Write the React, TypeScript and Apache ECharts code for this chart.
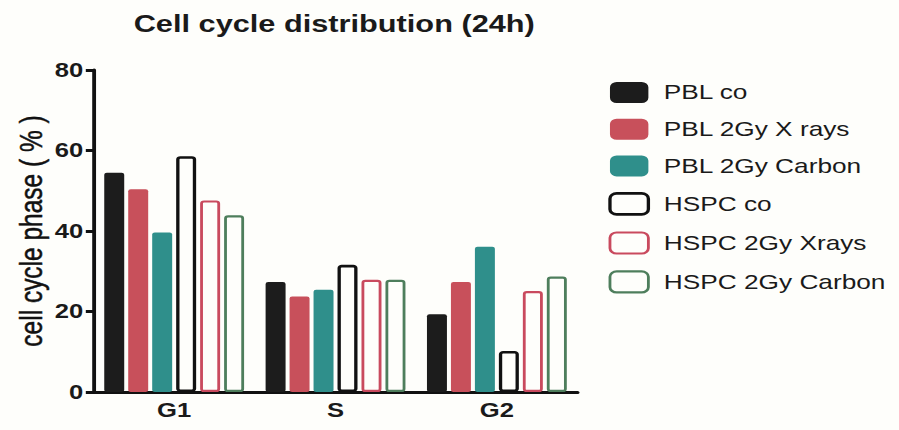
import React, { useEffect, useRef } from "react";
import * as echarts from "echarts";

const categories = ["G1", "S", "G2"];
const seriesNames = [
  "PBL co",
  "PBL 2Gy X rays",
  "PBL 2Gy Carbon",
  "HSPC co",
  "HSPC 2Gy Xrays",
  "HSPC 2Gy Carbon",
];
const pblCo = [54.5, 27.3, 19.3];
const pblXrays = [50.4, 23.7, 27.3];
const pblCarbon = [39.6, 25.4, 36.1];
const hspcCo = [58.6, 31.6, 10.2];
const hspcXrays = [47.6, 27.9, 25.1];
const hspcCarbon = [43.9, 27.9, 28.7];
const yTicks = [0, 20, 40, 60, 80];

const BG = "#fefefb";
const FONT = "Liberation Sans, Arial, sans-serif";
// the reference picture is stretched horizontally; the chart is drawn narrower and widened with CSS
const W = 702;
const STRETCH = 899 / W;

export default function App() {
  const ref = useRef<HTMLDivElement>(null);
  useEffect(() => {
    if (!ref.current) return;
    const chart = echarts.init(ref.current, undefined, { renderer: "svg" });
    const values = [pblCo, pblXrays, pblCarbon, hspcCo, hspcXrays, hspcCarbon];
    const styles = [
      { color: "#1c1c1c", borderColor: "#1c1c1c", borderWidth: 0 },
      { color: "#c8505b", borderColor: "#c8505b", borderWidth: 0 },
      { color: "#2f8f8b", borderColor: "#2f8f8b", borderWidth: 0 },
      { color: BG, borderColor: "#111111", borderWidth: 2.6 },
      { color: BG, borderColor: "#c94a5e", borderWidth: 2.2 },
      { color: BG, borderColor: "#4e7e5c", borderWidth: 2.2 },
    ];
    chart.setOption({
      animation: false,
      backgroundColor: BG,
      title: {
        text: "Cell cycle distribution (24h)",
        left: 256,
        top: 7,
        textAlign: "center",
        textStyle: { fontFamily: FONT, fontSize: 24, fontWeight: "bold", color: "#1a1a1a" },
      },
      legend: {
        orient: "vertical",
        left: 470,
        top: 77,
        itemWidth: 30,
        itemHeight: 21,
        itemGap: 15.7,
        textStyle: { fontFamily: FONT, fontSize: 20.5, color: "#1a1a1a", padding: [0, 0, 0, 7] },
        data: seriesNames.map((n, i) => ({
          name: n,
          icon: "roundRect",
          itemStyle: {
            color: styles[i].color,
            borderColor: styles[i].borderColor,
            borderWidth: styles[i].borderWidth,
          },
        })),
      },
      grid: { left: 73, right: 251, top: 70, bottom: 38 },
      xAxis: {
        type: "category",
        data: categories,
        axisLine: { lineStyle: { color: "#111", width: 3 } },
        axisTick: { alignWithLabel: true, length: 6, lineStyle: { color: "#111", width: 2.5 } },
        axisLabel: { fontFamily: FONT, fontSize: 20, fontWeight: "bold", color: "#1a1a1a", margin: 8 },
      },
      yAxis: {
        type: "value",
        min: yTicks[0],
        max: yTicks[yTicks.length - 1],
        interval: 20,
        name: "cell cycle phase ( % )",
        nameLocation: "middle",
        nameGap: 36,
        nameMoveOverlap: false,
        nameTextStyle: { fontFamily: FONT, fontSize: 24.5, fontWeight: 500, color: "#111", textBorderColor: "#111", textBorderWidth: 0.4 },
        splitLine: { show: false },
        axisLine: { show: true, lineStyle: { color: "#111", width: 3 } },
        axisTick: { show: true, length: 6, lineStyle: { color: "#111", width: 3 } },
        axisLabel: { fontFamily: FONT, fontSize: 20, fontWeight: "bold", color: "#1a1a1a", margin: 8 },
      },
      series: seriesNames.map((n, i) => ({
        name: n,
        type: "bar",
        data: values[i],
        barWidth: 15.6,
        barGap: "20%",
        itemStyle: { ...styles[i], borderRadius: 2 },
      })),
    });
    return () => chart.dispose();
  }, []);
  return (
    <div
      ref={ref}
      style={{
        position: "fixed",
        left: 0,
        top: 0,
        width: W,
        height: 430,
        transform: `scaleX(${STRETCH})`,
        transformOrigin: "0 0",
      }}
    />
  );
}
